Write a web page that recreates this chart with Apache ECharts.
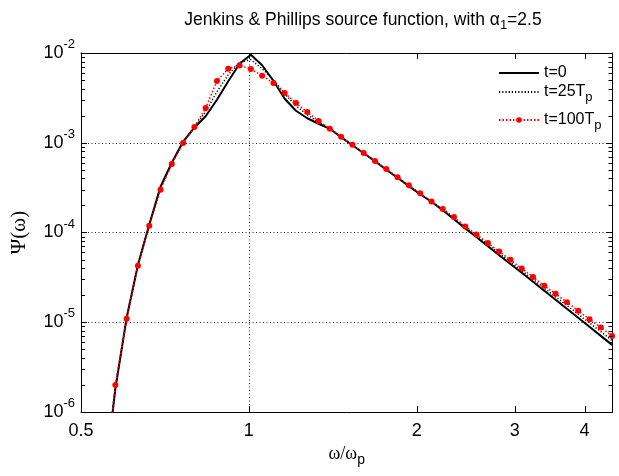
<!DOCTYPE html>
<html>
<head>
<meta charset="utf-8">
<script src="https://cdn.jsdelivr.net/npm/echarts@6/dist/echarts.min.js"></script>
<style>
html,body{margin:0;padding:0;background:#fff;}
#chart{width:619px;height:476px;background:#fff;}
</style>
</head>
<body>
<div id="chart"></div>
<script>
// normalized frequency omega/omega_p (log-spaced grid)
const omega = [0.5499, 0.5762, 0.6037, 0.6325, 0.6627, 0.6943, 0.7274, 0.7622, 0.7985, 0.8366, 0.8766, 0.9185, 0.9624, 1.0083, 1.0564, 1.1068, 1.1596, 1.2149, 1.2730, 1.3337, 1.3973, 1.4640, 1.5339, 1.6071, 1.6838, 1.7641, 1.8483, 1.9365, 2.0290, 2.1258, 2.2272, 2.3335, 2.4449, 2.5616, 2.6838, 2.8119, 2.9461, 3.0867, 3.2340, 3.3884, 3.5501, 3.7195, 3.8971, 4.0831, 4.2779, 4.4821];
// t = 0
const psi_t0 = [1.5e-7, 1.81e-6, 1.12e-5, 4.36e-5, 1.218e-4, 3.232e-4, 5.98e-4, 1.026e-3, 1.470e-3, 1.974e-3, 3.016e-3, 4.849e-3, 7.600e-3, 9.57e-3, 7.31e-3, 4.91e-3, 3.094e-3, 2.273e-3, 1.876e-3, 1.628e-3, 1.433e-3, 1.152e-3, 9.38e-4, 7.64e-4, 6.22e-4, 5.00e-4, 4.07e-4, 3.275e-4, 2.667e-4, 2.199e-4, 1.768e-4, 1.404e-4, 1.108e-4, 8.84e-5, 7.02e-5, 5.57e-5, 4.455e-5, 3.554e-5, 2.82e-5, 2.239e-5, 1.777e-5, 1.411e-5, 1.12e-5, 8.89e-6, 7.05e-6, 5.60e-6];
// t = 25 Tp
const psi_t25 = [1.5e-7, 1.905e-6, 1.105e-5, 4.31e-5, 1.203e-4, 3.15e-4, 5.91e-4, 1.013e-3, 1.489e-3, 2.216e-3, 3.703e-3, 5.73e-3, 7.90e-3, 8.42e-3, 6.68e-3, 5.04e-3, 3.518e-3, 2.585e-3, 2.052e-3, 1.692e-3, 1.433e-3, 1.158e-3, 9.43e-4, 7.68e-4, 6.24e-4, 5.05e-4, 4.10e-4, 3.316e-4, 2.701e-4, 2.211e-4, 1.800e-4, 1.447e-4, 1.140e-4, 9.19e-5, 7.33e-5, 5.86e-5, 4.715e-5, 3.76e-5, 3.008e-5, 2.393e-5, 1.920e-5, 1.543e-5, 1.228e-5, 9.85e-6, 7.86e-6, 6.28e-6];
// t = 100 Tp
const psi_t100 = [1.5e-7, 2.005e-6, 1.091e-5, 4.255e-5, 1.188e-4, 2.992e-4, 5.79e-4, 9.92e-4, 1.496e-3, 2.437e-3, 4.873e-3, 6.68e-3, 7.27e-3, 6.63e-3, 5.58e-3, 4.63e-3, 3.582e-3, 2.771e-3, 2.199e-3, 1.745e-3, 1.433e-3, 1.164e-3, 9.48e-4, 7.70e-4, 6.25e-4, 5.09e-4, 4.135e-4, 3.36e-4, 2.735e-4, 2.216e-4, 1.823e-4, 1.485e-4, 1.166e-4, 9.50e-5, 7.62e-5, 6.14e-5, 4.96e-5, 3.968e-5, 3.184e-5, 2.545e-5, 2.073e-5, 1.675e-5, 1.34e-5, 1.083e-5, 8.73e-6, 7.05e-6];

const seriesNames = ['t=0', 't=25Tp', 't=100Tp'];
const xTicks = [0.5, 1, 2, 3, 4];
const yTicks = [1e-6, 1e-5, 1e-4, 1e-3, 1e-2];
const xGridValues = [1];

const X_MIN = 0.5, X_MAX = 4.49, Y_MIN = 1e-6, Y_MAX = 1e-2;
const FONT = '"Liberation Sans", Arial, sans-serif';
const SERIF = '"Liberation Serif", "Times New Roman", serif';

// minor tick positions (1..9 per decade) for the log y axis
const yMinorTicks = [];
for (let e = -6; e < -2; e++) {
  for (let k = 1; k <= 9; k++) yMinorTicks.push(+(k * Math.pow(10, e)).toPrecision(3));
}
yMinorTicks.push(1e-2);

function pairs(ys) { return omega.map((w, i) => [w, ys[i]]); }
function blk() { return { color: '#000', width: 1 }; }

const legendLabels = {
  't=0': '{a|t=0}',
  't=25Tp': '{a|t=25T}{s|p}',
  't=100Tp': '{a|t=100T}{s|p}'
};
const legendRich = {
  a: { fontFamily: FONT, fontSize: 16, color: '#000' },
  s: { fontFamily: FONT, fontSize: 13, color: '#000', padding: [11, 0, 0, 0] }
};
function makeLegend(name, top, hideSymbol) {
  return {
    data: [hideSymbol ? { name: name, itemStyle: { opacity: 0 } } : name],
    left: 498, top: top, orient: 'vertical',
    itemWidth: 40, itemHeight: 7, itemGap: 0, padding: 0,
    selectedMode: false,
    formatter: n => legendLabels[n],
    textStyle: { fontFamily: FONT, fontSize: 16, color: '#000', rich: legendRich }
  };
}

const option = {
  animation: false,
  title: {
    text: '{a|Jenkins & Phillips source function, with α}{s|1}{a|=2.5}',
    left: 358, top: 3, textAlign: 'center',
    textStyle: {
      fontFamily: FONT, fontSize: 17.5, fontWeight: 'normal', color: '#000',
      rich: {
        a: { fontFamily: FONT, fontSize: 17.5, color: '#000' },
        s: { fontFamily: FONT, fontSize: 13, color: '#000', padding: [11, 0, 0, 0] }
      }
    }
  },
  legend: [makeLegend('t=0', 65, true), makeLegend('t=25Tp', 84, true), makeLegend('t=100Tp', 112, false)],
  grid: { left: 81, top: 53, right: 6.5, bottom: 64, containLabel: false, outerBoundsMode: 'none' },
  xAxis: [
    {
      type: 'log', logBase: 10, min: X_MIN, max: X_MAX, position: 'bottom',
      name: '{a|ω/ω}{s|p}', nameLocation: 'middle', nameGap: 25,
      nameTextStyle: {
        rich: {
          a: { fontFamily: SERIF, fontSize: 18, color: '#000' },
          s: { fontFamily: FONT, fontSize: 14, color: '#000', padding: [12, 0, 0, 0] }
        }
      },
      axisLine: { show: true, onZero: false, lineStyle: blk() },
      axisTick: { show: false },
      axisLabel: {
        customValues: xTicks, margin: 10, color: '#000', fontFamily: FONT, fontSize: 18,
        formatter: v => String(v)
      },
      splitLine: { show: false }, minorTick: { show: false }, minorSplitLine: { show: false }
    },
    {
      type: 'log', logBase: 10, min: X_MIN, max: X_MAX, position: 'top',
      axisLine: { show: true, onZero: false, lineStyle: blk() },
      axisTick: { show: false },
      axisLabel: { show: false },
      splitLine: { show: false }
    }
  ],
  yAxis: [
    {
      type: 'log', logBase: 10, min: Y_MIN, max: Y_MAX, position: 'left',
      name: 'Ψ(ω)', nameLocation: 'middle', nameGap: 51, nameRotate: 90,
      nameTextStyle: { fontFamily: SERIF, fontSize: 21, color: '#000' },
      axisLine: { show: true, onZero: false, lineStyle: blk() },
      axisTick: { show: false },
      axisLabel: {
        customValues: yTicks, margin: 6, color: '#000',
        formatter: v => '{b|10}{e|' + Math.round(Math.log10(v)) + '}',
        rich: {
          b: { fontFamily: FONT, fontSize: 18, color: '#000' },
          e: { fontFamily: FONT, fontSize: 13, color: '#000', padding: [0, 0, 17, 0] }
        }
      },
      splitLine: { show: false }
    },
    {
      type: 'log', logBase: 10, min: Y_MIN, max: Y_MAX, position: 'right',
      axisLine: { show: true, onZero: false, lineStyle: blk() },
      axisTick: { show: false },
      axisLabel: { show: false },
      splitLine: { show: false }
    },
    {
      // decade grid lines (dotted), drawn from the axis' own decade ticks
      type: 'log', logBase: 10, min: Y_MIN, max: Y_MAX, position: 'right', offset: 0,
      axisLine: { show: false }, axisTick: { show: false }, axisLabel: { show: false },
      splitLine: { show: true, lineStyle: { color: '#222', width: 1, type: [1, 2.5] } }
    }
  ],
  series: [
    {
      name: seriesNames[0], type: 'line', data: pairs(psi_t0),
      xAxisIndex: 0, yAxisIndex: 0,
      symbol: 'none', smooth: false, clip: true,
      lineStyle: { color: '#000', width: 2, type: 'solid' },
      itemStyle: { color: '#000' },
      markLine: {
        silent: true, symbol: ['none', 'none'], label: { show: false },
        lineStyle: { color: '#222', width: 1, type: [1, 2.5] },
        data: xGridValues.map(v => ({ xAxis: v }))
      },
      z: 3
    },
    {
      name: seriesNames[1], type: 'line', data: pairs(psi_t25),
      xAxisIndex: 0, yAxisIndex: 0,
      symbol: 'none', smooth: false, clip: true,
      lineStyle: { color: '#000', width: 1.5, type: [1.2, 2] },
      itemStyle: { color: '#000' },
      z: 4
    },
    {
      name: seriesNames[2], type: 'line', data: pairs(psi_t100),
      xAxisIndex: 0, yAxisIndex: 0,
      symbol: 'circle', symbolSize: 6, showSymbol: true, showAllSymbol: true, smooth: false, clip: true,
      lineStyle: { color: '#ff0000', width: 1.5, type: [1.5, 2] },
      itemStyle: { color: '#ff0000', borderWidth: 0 },
      z: 5
    }
  ]
};

const chart = echarts.init(document.getElementById('chart'));
chart.setOption(option);

// Box tick marks (inside, on all four sides), placed through the axes' own scales.
(function addTicks() {
  const px = v => chart.convertToPixel({ xAxisIndex: 0 }, v);
  const py = v => chart.convertToPixel({ yAxisIndex: 0 }, v);
  const crisp = p => Math.round(p) + 0.5;
  const left = px(X_MIN), right = px(X_MAX), top = py(Y_MAX), bottom = py(Y_MIN);
  if (![left, right, top, bottom].every(isFinite)) return;
  const els = [];
  const seg = (x1, y1, x2, y2) => els.push({
    type: 'line', silent: true, z: 20,
    shape: { x1: x1, y1: y1, x2: x2, y2: y2 },
    style: { stroke: '#000', lineWidth: 1 }
  });
  xTicks.forEach(v => {
    const x = crisp(px(v));
    if (x <= left + 1 || x >= right - 1) return;
    seg(x, bottom, x, bottom - 6);
    seg(x, top, x, top + 6);
  });
  yMinorTicks.forEach(v => {
    const y = crisp(py(v));
    if (y <= top + 1 || y >= bottom - 1) return;
    const major = yTicks.indexOf(v) >= 0;
    const len = major ? 6 : 4;
    seg(left, y, left + len, y);
    seg(right, y, right - len, y);
  });
  chart.setOption({ graphic: { elements: els } });
})();
</script>
</body>
</html>
